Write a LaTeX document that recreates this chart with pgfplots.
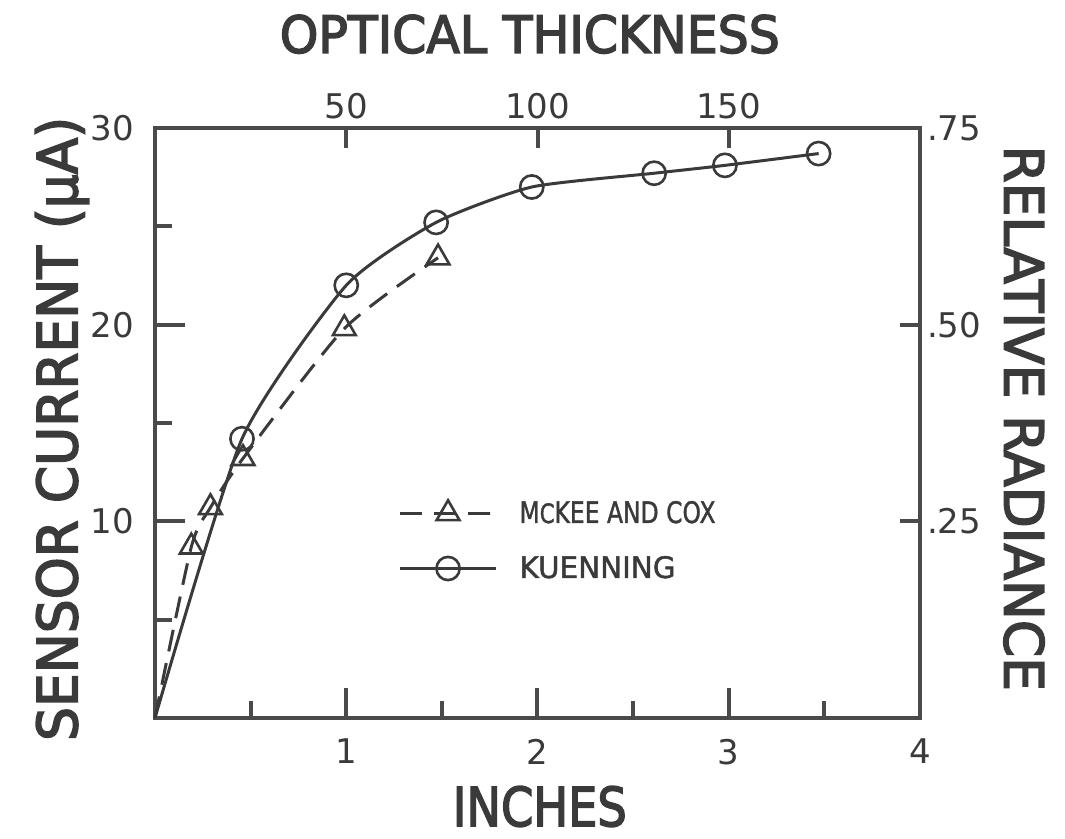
\documentclass[border=0pt]{standalone}
\usepackage{pgfplots}
\pgfplotsset{compat=1.18}
\usepackage{fontspec}
\setmainfont{DejaVu Sans}
\newfontfamily\labelfont{DejaVu Sans}[FakeBold=3]
\newfontfamily\legfont{DejaVu Sans}[FakeBold=1.5]
\usepackage{graphicx}
\definecolor{ink}{HTML}{3A3A3A}
\definecolor{axisgray}{HTML}{4A4A4A}
\newcommand{\tickfont}{\fontsize{17}{17}\selectfont}

\begin{document}
\begin{tikzpicture}
\begin{axis}[
  name=main,
  at={(0,0)}, anchor=south west,
  width=382.5pt, height=295pt, scale only axis,
  xmin=0, xmax=4, ymin=0, ymax=30,
  clip=false,
  axis line style={draw=axisgray, line width=2pt},
  every tick/.style={draw=axisgray, line width=2pt},
  tick align=inside,
  tick pos=left,
  xtick={1,2,3,4}, xticklabels={1,2,3,4},
  minor xtick={0.5,1.5,2.5,3.5},
  ytick={10,20,30}, yticklabels={10,20,30},
  minor ytick={5,15,25},
  major tick length=15pt, minor tick length=8.5pt,
  ticklabel style={font=\tickfont, text=ink},
  xticklabel style={yshift=-7pt},
  yticklabel style={xshift=-7pt},
  legend style={draw=none, fill=none, at={(rel axis cs:0.31,0.30)}, anchor=west,
    row sep=11pt, nodes={inner sep=2pt, text=ink}},
  legend cell align=left,
  legend image code/.code={
    \draw[mark repeat=2,mark phase=2,#1] plot coordinates {(0pt,0pt) (24pt,0pt) (48pt,0pt)};
    \path (57pt,0pt);
  },
]
\addplot[ink, line width=1.5pt, smooth, tension=0.4, dash pattern=on 11pt off 6pt,
  mark=triangle, mark size=6.6pt, mark phase=2, mark options={solid, line width=1.3pt, fill=none}]
  coordinates {(0,0) (0.19,8.7) (0.29,10.7) (0.46,13.2) (0.99,19.8) (1.48,23.4)};
\addlegendentry{\resizebox{98pt}{11pt}{\legfont M{\small C}KEE AND COX}}
\addplot[ink, line width=1.5pt, smooth, tension=0.35,
  mark=o, mark size=5.8pt, mark phase=2, mark options={solid, line width=1.3pt, fill=none}]
  coordinates {(0,0) (0.455,14.2) (1.0,22.0) (1.47,25.2) (1.97,27.0) (2.61,27.7) (2.98,28.1) (3.47,28.7)};
\addlegendentry{\resizebox{78pt}{11pt}{\legfont KUENNING}}
\node[text=ink, anchor=center, inner sep=0pt] at (rel axis cs:0.490,1.159) {\resizebox{250pt}{19pt}{\labelfont OPTICAL THICKNESS}};
\node[text=ink, anchor=center, inner sep=0pt] at (rel axis cs:0.503,-0.150) {\resizebox{87pt}{20pt}{\labelfont INCHES}};
\node[text=ink, anchor=center, inner sep=0pt, rotate=90] at (rel axis cs:-0.1216,0.490) {\resizebox{312pt}{21pt}{\labelfont SENSOR CURRENT (μA)}};
\node[text=ink, anchor=center, inner sep=0pt, rotate=-90] at (rel axis cs:1.136,0.508) {\resizebox{272.5pt}{20pt}{\labelfont RELATIVE RADIANCE}};
\end{axis}
\begin{axis}[
  at={(0,0)}, anchor=south west,
  width=382.5pt, height=295pt, scale only axis,
  xmin=0, xmax=200, ymin=0, ymax=0.75,
  axis x line*=top, axis y line*=right,
  axis line style={draw=axisgray, line width=2pt},
  every tick/.style={draw=axisgray, line width=2pt},
  tick align=inside,
  xtick={50,100,150}, xticklabels={50,100,150},
  ytick={0.25,0.5,0.75}, yticklabels={.25,.50,.75},
  major tick length=10pt,
  ticklabel style={font=\tickfont, text=ink},
  xticklabel style={yshift=1pt},
  yticklabel style={xshift=0pt},
]
\addplot[draw=none] coordinates {(0,0)};
\end{axis}
\pgfresetboundingbox
\path[use as bounding box] ([shift={(-77.5pt,-60.5pt)}]main.south west) rectangle ([shift={(72.5pt,64pt)}]main.north east);
\end{tikzpicture}
\end{document}
